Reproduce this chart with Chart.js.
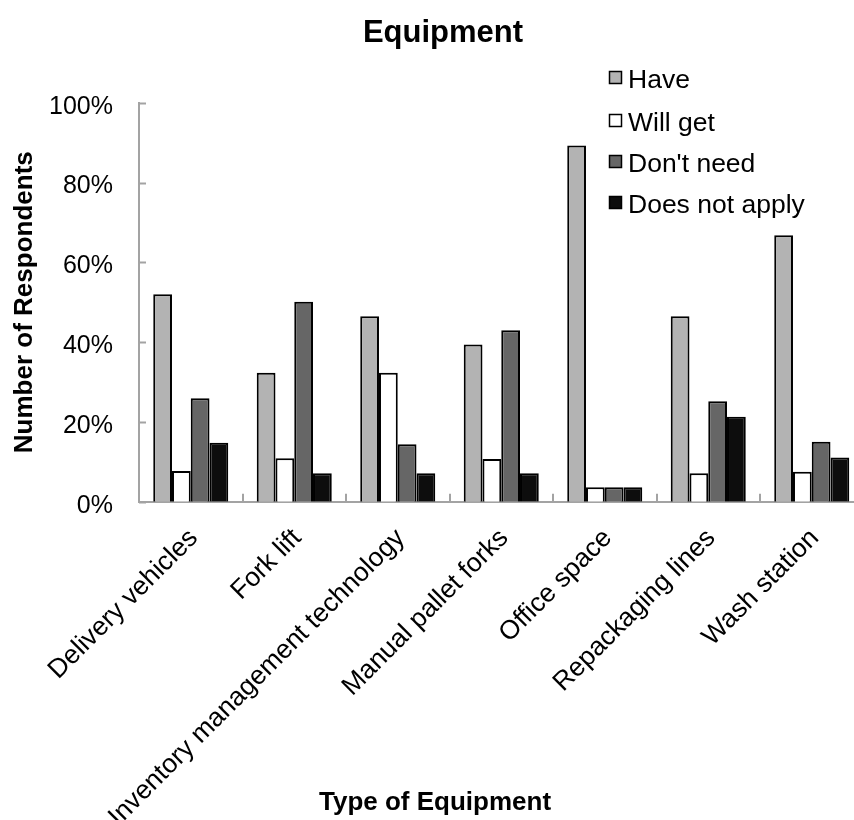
<!DOCTYPE html>
<html>
<head>
<meta charset="utf-8">
<script src="https://cdn.jsdelivr.net/npm/chart.js@4/dist/chart.umd.min.js"></script>
<style>
  html, body { margin: 0; padding: 0; background: #fff; overflow: hidden; }
  #wrap { width: 880px; height: 820px; position: relative; }
</style>
</head>
<body>
<div id="wrap"><canvas id="chart" width="880" height="820"></canvas></div>
<script>
// Equipment survey, % of respondents
const categories = [
  'Delivery vehicles', 'Fork lift', 'Inventory management technology',
  'Manual pallet forks', 'Office space', 'Repackaging lines', 'Wash station',
];
const seriesNames = ['Have', 'Will get', "Don't need", 'Does not apply'];
const have        = [52.0, 32.3, 46.5, 39.4, 89.3, 46.5, 66.8];
const willGet     = [7.7, 10.9, 32.3, 10.7, 3.6, 7.1, 7.5];
const dontNeed    = [25.9, 50.1, 14.4, 43.0, 3.6, 25.2, 15.0];
const doesNotApply = [14.8, 7.1, 7.1, 7.1, 3.6, 21.3, 11.1];
const yTicks = [0, 20, 40, 60, 80, 100];

const fills = ['#b3b3b3', '#ffffff', '#666666', '#0d0d0d'];
const axisGray = '#a3a3a3';
const FONT = '"Liberation Sans", Arial, Helvetica, sans-serif';

const series = [have, willGet, dontNeed, doesNotApply];

// tick marks, titles and legend drawn by hand (Excel style)
const decor = {
  id: 'decor',
  afterDraw(chart) {
    const { ctx, chartArea: a, scales: { x, y } } = chart;
    ctx.save();
    ctx.strokeStyle = axisGray;
    ctx.lineWidth = 2;
    // y ticks pointing inward
    for (const v of yTicks) {
      const py = Math.round(y.getPixelForValue(v)) + 0.5;
      ctx.beginPath();
      ctx.moveTo(a.left, py);
      ctx.lineTo(a.left + 7, py);
      ctx.stroke();
    }
    // x ticks at category boundaries, pointing up
    for (let i = 1; i < categories.length; i++) {
      const px = Math.round((x.getPixelForTick(i - 1) + x.getPixelForTick(i)) / 2);
      ctx.beginPath();
      ctx.moveTo(px, a.bottom);
      ctx.lineTo(px, a.bottom - 8);
      ctx.stroke();
    }

    ctx.fillStyle = '#000';
    ctx.textBaseline = 'alphabetic';
    ctx.textAlign = 'center';
    ctx.font = 'bold 31px ' + FONT;
    ctx.fillText('Equipment', 443, 42);
    ctx.font = 'bold 26px ' + FONT;
    ctx.fillText('Type of Equipment', 435, 810);

    // legend
    ctx.textAlign = 'left';
    ctx.font = '26.5px ' + FONT;
    const baselines = [88, 131, 172, 213];
    seriesNames.forEach((name, i) => {
      const base = baselines[i];
      ctx.fillStyle = fills[i];
      ctx.fillRect(609.5, base - 16.5, 12, 12);
      ctx.strokeStyle = '#000';
      ctx.lineWidth = 1.5;
      ctx.strokeRect(609.5, base - 16.5, 12, 12);
      ctx.fillStyle = '#000';
      ctx.fillText(name, 628, base);
    });
    ctx.restore();
  },
};

new Chart(document.getElementById('chart'), {
  type: 'bar',
  data: {
    labels: categories,
    datasets: seriesNames.map((name, i) => ({
      label: name,
      data: series[i],
      backgroundColor: fills[i],
      borderColor: '#000',
      borderWidth: 2,
      borderSkipped: 'bottom',
      categoryPercentage: 0.725,
      barPercentage: 1.0,
    })),
  },
  options: {
    responsive: false,
    animation: false,
    devicePixelRatio: 1,
    layout: { padding: { top: 102.7, right: 16.5, left: 0, bottom: 0 } },
    plugins: {
      legend: { display: false },
      title: { display: false },
      tooltip: { enabled: false },
    },
    scales: {
      x: {
        type: 'category',
        afterFit(s) { s.height = 318.3; },
        grid: { display: false, drawTicks: false },
        border: { display: true, color: axisGray, width: 2 },
        ticks: {
          color: '#000',
          font: { family: FONT, size: 26.5 },
          minRotation: 45,
          maxRotation: 45,
          autoSkip: false,
          padding: 21,
          labelOffset: 3,
        },
      },
      y: {
        min: 0,
        max: 100,
        afterFit(s) { s.width = 139; },
        afterBuildTicks(s) { s.ticks = yTicks.map(v => ({ value: v })); },
        grid: { display: false, drawTicks: false },
        border: { display: true, color: axisGray, width: 2 },
        ticks: {
          color: '#000',
          font: { family: FONT, size: 25 },
          padding: 26,
          labelOffset: 4,
          callback: v => v + '%',
        },
        title: {
          display: true,
          text: 'Number of Respondents',
          color: '#000',
          font: { family: FONT, size: 26, weight: 'bold' },
          padding: { top: 9, bottom: 0 },
        },
      },
    },
  },
  plugins: [decor],
});
</script>
</body>
</html>
